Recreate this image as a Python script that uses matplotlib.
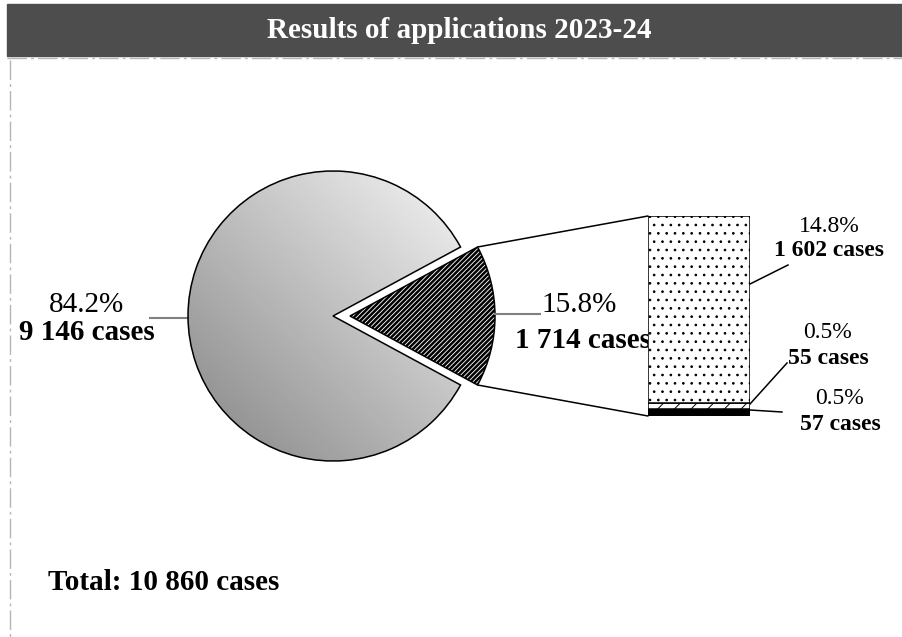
import numpy as np
import matplotlib
matplotlib.use("Agg")
import matplotlib.pyplot as plt
from matplotlib.patches import Rectangle, ConnectionPatch

plt.rcParams['font.family'] = ['Liberation Serif', 'DejaVu Serif']
plt.rcParams['hatch.linewidth'] = 0.7

# data
title = "Results of applications 2023-24"
pie_values = [1714, 9146]          # split-out part, rest
pie_pct = ["15.8%", "84.2%"]
pie_cases = ["1 714 cases", "9 146 cases"]
bar_values = [57, 55, 1602]        # bottom to top
bar_pct = ["0.5%", "0.5%", "14.8%"]
bar_cases = ["57 cases", "55 cases", "1 602 cases"]
total_text = "Total: 10 860 cases"

W, H = 903, 637
fig = plt.figure(figsize=(W / 100, H / 100), dpi=100)
ax = fig.add_axes([0, 0, 1, 1])

# pie in pixel coords (y measured upward)
cx, cy, r = 333, H - 316, 145
half = 360 * pie_values[0] / sum(pie_values) / 2
wedges, _ = ax.pie(pie_values, center=(cx, cy), radius=r, startangle=-half,
                   explode=[17, 0], frame=True,
                   wedgeprops=dict(edgecolor='black', linewidth=1.1))
small, big = wedges
small.set_facecolor('white')
small.set_hatch('///////')
if hasattr(small, 'set_hatch_linewidth'):
    small.set_hatch_linewidth(1.8)
big.set_facecolor('none')
big.set_zorder(3)

# gradient fill for the big slice
n = 300
gx, gy = np.meshgrid(np.linspace(0, 1, n), np.linspace(0, 1, n))
grad = 0.52 + 0.45 * (gx + gy) / 2
im = ax.imshow(grad, cmap='gray', vmin=0, vmax=1, origin='lower',
               extent=[cx - r, cx + r, cy - r, cy + r], zorder=2,
               interpolation='bilinear')
im.set_clip_path(big)

ax.set_xlim(0, W)
ax.set_ylim(0, H)
ax.set_aspect('auto')
ax.axis('off')

# title bar and frame lines
ax.add_patch(Rectangle((7, H - 56), W - 7, 52, color='#4d4d4d', zorder=1))
ax.text(459, H - 30, title, color='white', fontsize=21, fontweight='bold',
        ha='center', va='center', zorder=5)
ax.plot([7, W], [H - 57.5, H - 57.5], color='#b5b5b5', lw=1,
        dashes=(14, 3, 2, 3))
ax.plot([10, 10], [H - 60, 0], color='#b5b5b5', lw=1, dashes=(14, 3, 2, 3))

# bar of split-out slice
bx0, bx1, by0, by1 = 648, 750, 416, 216
ax_bar = fig.add_axes([bx0 / W, (H - by0) / H, (bx1 - bx0) / W, (by0 - by1) / H])
bottoms = np.concatenate([[0], np.cumsum(bar_values)[:-1]])
fills = [('black', None), ('white', '//'), ('white', '..')]
for v, b, (fc, hatch) in zip(bar_values, bottoms, fills):
    ax_bar.bar(0, v, bottom=b, width=1, facecolor=fc, edgecolor='black',
               linewidth=1.1, hatch=hatch)
ax_bar.set_xlim(-0.5, 0.5)
ax_bar.set_ylim(0, sum(bar_values))
ax_bar.axis('off')

# connecting lines wedge -> bar
sc = small.center
for ang, yb in [(small.theta2, sum(bar_values)), (small.theta1, 0)]:
    p = (sc[0] + r * np.cos(np.radians(ang)), sc[1] + r * np.sin(np.radians(ang)))
    con = ConnectionPatch(p, (-0.5, yb), coordsA=ax.transData,
                          coordsB=ax_bar.transData, color='black', lw=1.1)
    fig.add_artist(con)

# pie labels
ax.plot([150, cx - r], [H - 318, H - 318], color='#808080', lw=1.5)
ax.text(87, H - 305, pie_pct[1], fontsize=21, ha='center', va='center')
ax.text(87, H - 333, pie_cases[1], fontsize=21, fontweight='bold',
        ha='center', va='center')
ax.plot([sc[0] + r, 540], [H - 314, H - 314], color='#808080', lw=1.5)
ax.text(579, H - 305, pie_pct[0], fontsize=21, ha='center', va='center')
ax.text(583, H - 340, pie_cases[0], fontsize=21, fontweight='bold',
        ha='center', va='center')

# bar labels with leader lines
lab_pos = [(840, 399, 424), (828, 333, 359), (829, 227, 250)]
leaders = [((750, 410), (782, 412)), ((750, 404), (787, 363)),
           ((750, 284), (788, 265))]
for (tx, ty1, ty2), (a, b), pct, cs in zip(lab_pos, leaders, bar_pct, bar_cases):
    ax.text(tx, H - ty1, pct, fontsize=17, ha='center', va='center')
    ax.text(tx, H - ty2, cs, fontsize=17, fontweight='bold', ha='center', va='center')
    ax.plot([a[0], b[0]], [H - a[1], H - b[1]], color='black', lw=1.1)

ax.text(48, H - 582, total_text, fontsize=21, fontweight='bold',
        ha='left', va='center')

fig.savefig('out.png', dpi=100)
